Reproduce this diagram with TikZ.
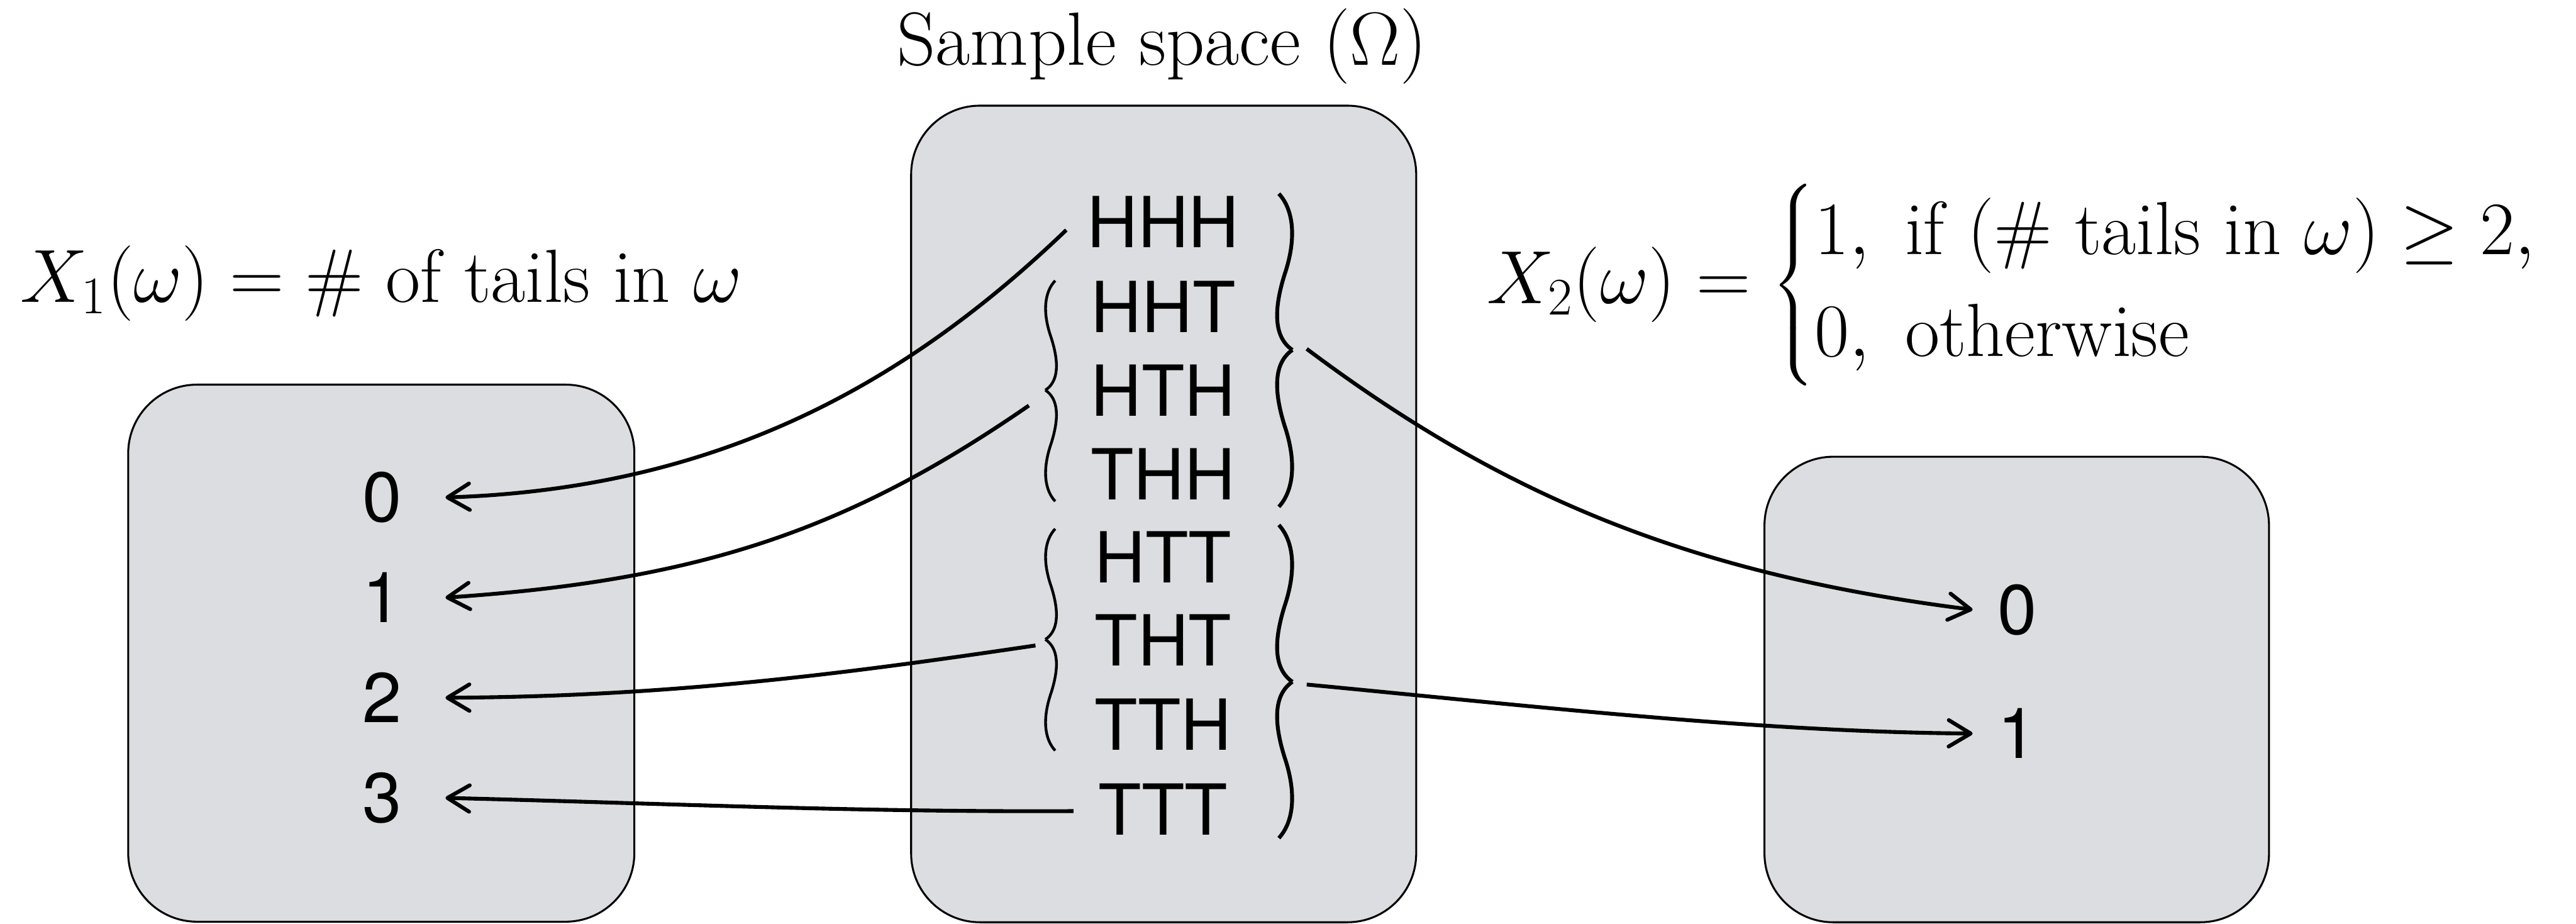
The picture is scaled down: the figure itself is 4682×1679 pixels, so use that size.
\RequirePackage{fix-cm}
\documentclass[tikz,border=0pt]{standalone}
\usepackage{amsmath}
\usepackage{fontspec}
\newfontfamily\heros{TeX Gyre Heros}
\usetikzlibrary{arrows.meta}
\definecolor{boxgray}{RGB}{220,221,224}
\tikzset{
  panel/.style={draw=black, line width=0.35mm, fill=boxgray, rounded corners=12.5mm, inner sep=0pt},
  outcome/.style={font=\heros\fontsize{36.4}{43}\selectfont, inner sep=0pt},
  lval/.style={font=\heros\fontsize{36.4}{43}\selectfont, inner sep=0pt, minimum width=23mm},
  rval/.style={font=\heros\fontsize{36.4}{43}\selectfont, inner sep=0pt, minimum width=16mm},
  maplink/.style={line width=0.7mm, -{Straight Barb[length=4mm,width=4.8mm,round]}},
  brc/.style={line width=0.5mm},
  mathlbl/.style={font=\fontsize{39}{44}\selectfont, inner sep=0pt, anchor=base}
}
\newcommand{\drawbrace}[6]{%
  \draw[brc,line width=#6] ({#1+0.15*(#5)},{#2}) .. controls ({#1+1.05*(#5)},{#2+0.1*(#3-#2)}) and ({#1+1.3*(#5)},{#2+0.28*(#3-#2)}) .. ({#1+0.5*(#5)},{#2+0.52*(#3-#2)}) .. controls ({#1-0.2*(#5)},{#2+0.75*(#3-#2)}) and ({#1-0.15*(#5)},{#2+0.92*(#3-#2)}) .. ({#1+(#5)},{#3});
  \draw[brc,line width=#6] ({#1+0.15*(#5)},{#4}) .. controls ({#1+1.05*(#5)},{#4+0.1*(#3-#4)}) and ({#1+1.3*(#5)},{#4+0.28*(#3-#4)}) .. ({#1+0.5*(#5)},{#4+0.52*(#3-#4)}) .. controls ({#1-0.2*(#5)},{#4+0.75*(#3-#4)}) and ({#1-0.15*(#5)},{#4+0.92*(#3-#4)}) .. ({#1+(#5)},{#3});
}
\begin{document}
\begin{tikzpicture}[x=0.1mm, y=-0.1mm]
\useasboundingbox (0,0) rectangle (4682,1679);

% panels
\node[panel, minimum width=92mm, minimum height=97.6mm] (leftset) at (693,1187) {};
\node[panel, minimum width=91.8mm, minimum height=148.4mm] (omega) at (2115,934) {};
\node[panel, minimum width=91.7mm, minimum height=84.6mm] (rightset) at (3665.5,1253) {};

% labels
\node[mathlbl] (title) at (2112,118) {Sample space ($\Omega$)};
\node[mathlbl] (x1) at (693,549) {$X_1(\omega) = \#\text{ of tails in }\omega$};
\node[mathlbl, anchor=base west] (x2) at (2702,552) {$X_2(\omega) = \begin{cases} 1,\ \text{if }(\#\text{ tails in }\omega)\geq 2,\\ 0,\ \text{otherwise}\end{cases}$};

% outcomes
\node[outcome] (HHH) at (2114,403) {HHH};
\node[outcome] (HHT) at (2114,558) {HHT};
\node[outcome] (HTH) at (2114,709) {HTH};
\node[outcome] (THH) at (2114,862) {THH};
\node[outcome] (HTT) at (2114,1012) {HTT};
\node[outcome] (THT) at (2114,1163) {THT};
\node[outcome] (TTH) at (2114,1316) {TTH};
\node[outcome] (TTT) at (2114,1471) {TTT};

% values
\node[lval] (l0) at (694,904) {0};
\node[lval] (l1) at (694,1086) {1};
\node[lval] (l2) at (694,1268) {2};
\node[lval] (l3) at (694,1450) {3};
\node[rval] (r0) at (3666,1108) {0};
\node[rval] (r1) at (3666,1333) {1};

% braces
\drawbrace{1921}{510}{709}{911}{-21}{0.5mm}
\drawbrace{1921}{961}{1162}{1364}{-21}{0.5mm}
\drawbrace{2320}{352}{636}{921}{29}{0.7mm}
\drawbrace{2320}{954}{1239}{1523}{29}{0.7mm}

% connector start points
\coordinate (s1) at (1938,418);
\coordinate (s2) at (1870,737);
\coordinate (s3) at (1882,1173);
\coordinate (s4) at (1951,1474);
\coordinate (s5) at (2375,634);
\coordinate (s6) at (2375,1244);

% connectors
\draw[maplink] (s1) .. controls +(-288,276) and +(500,-16) .. (l0.east);
\draw[maplink] (s2) .. controls +(-330,228) and +(459,-31) .. (l1.east);
\draw[maplink] (s3) .. controls +(-350,52) and +(405,-2) .. (l2.east);
\draw[maplink] (s4) .. controls +(-400,2) and +(402,10) .. (l3.east);
\draw[maplink] (s5) .. controls +(360,270) and +(-509,-64) .. (r0.west);
\draw[maplink] (s6) .. controls +(400,38) and +(-395,-3) .. (r1.west);
\end{tikzpicture}
\end{document}
